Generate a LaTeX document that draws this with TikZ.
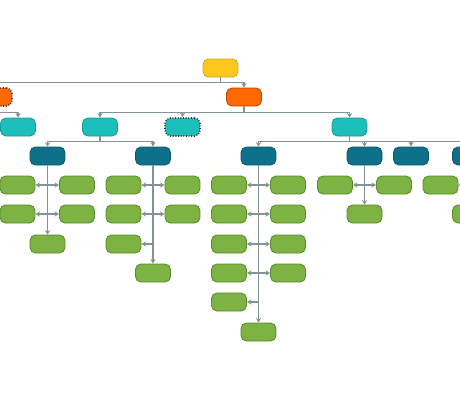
\documentclass[tikz,border=0pt]{standalone}
\usepackage{xcolor}
\usepackage{tikz}
\usetikzlibrary{arrows.meta,calc}

\definecolor{rootfill}{HTML}{FFC81E}
\definecolor{rootline}{HTML}{D9A520}
\definecolor{orfill}{HTML}{FF6A00}
\definecolor{orline}{HTML}{B24A05}
\definecolor{tlfill}{HTML}{1CBFB9}
\definecolor{tlline}{HTML}{169C97}
\definecolor{dkfill}{HTML}{0E7089}
\definecolor{dkline}{HTML}{0A5A6E}
\definecolor{grfill}{HTML}{7CB342}
\definecolor{grline}{HTML}{5C8A2E}
\definecolor{linkgray}{HTML}{85929A}

\tikzset{
  box/.style={rectangle,rounded corners=1.1mm,minimum width=0.7cm,minimum height=0.36cm,inner sep=0pt,line width=0.5pt},
  rootbox/.style={box,fill=rootfill,draw=rootline},
  orbox/.style={box,fill=orfill,draw=orline},
  tlbox/.style={box,fill=tlfill,draw=tlline},
  dkbox/.style={box,fill=dkfill,draw=dkline},
  grbox/.style={box,fill=grfill,draw=grline},
  ghost/.style={draw=black!80,densely dotted,line width=0.9pt},
  link/.style={draw=linkgray,line width=0.6pt,-{Stealth[length=2.6pt,width=3pt]}},
  dlink/.style={draw=linkgray,line width=0.6pt,{Stealth[length=2.6pt,width=3pt]}-{Stealth[length=2.6pt,width=3pt]}},
}

\begin{document}
\begin{tikzpicture}[x=0.02cm,y=-0.02cm]
  \useasboundingbox (0,0) rectangle (460,400);

  % top levels
  \node[rootbox] (yel) at (220.5,68) {};
  \node[orbox] (or2) at (244,97) {};
  \node[orbox,ghost] (or1) at (-5.5,97) {};
  \node[tlbox] (tl1) at (18,127) {};
  \node[tlbox] (tl2) at (100,127) {};
  \node[tlbox,ghost] (tl3) at (182.5,127) {};
  \node[tlbox] (tl4) at (349.5,127) {};

  \draw[link] (yel.south) -- ++(0,5) -| (or2.north);
  \draw[link] (yel.south) -- ++(0,5) -| (or1.north);
  \draw[link] (or1.south) -- ++(0,6) -| (tl1.north);
  \draw[link] (or2.south) -- ++(0,6) -| (tl2.north);
  \draw[link] (or2.south) -- ++(0,6) -| (tl3.north);
  \draw[link] (or2.south) -- ++(0,6) -| (tl4.north);

  % group heads
  \node[dkbox] (dk1) at (47.5,156) {};
  \node[dkbox] (dk2) at (153,156) {};
  \node[dkbox] (dk3) at (258.5,156) {};
  \node[dkbox] (dk4) at (364.5,156) {};
  \node[dkbox] (dk5) at (411,156) {};
  \node[dkbox] (dk6) at (470,156) {};

  \foreach \d in {dk1,dk2}
    \draw[link] (tl2.south) -- ++(0,5) -| (\d.north);
  \foreach \d in {dk3,dk4,dk5,dk6}
    \draw[link] (tl4.south) -- ++(0,5) -| (\d.north);

  % first group
  \node[grbox] (g1a) at (17.5,185) {};
  \node[grbox] (g1b) at (77,185) {};
  \node[grbox] (g1c) at (17.5,214) {};
  \node[grbox] (g1d) at (77,214) {};
  \node[grbox] (g1e) at (47.5,244) {};
  \draw[link] (dk1.south) -- (g1e.north);
  \draw[dlink] (g1a.east) -- (g1b.west);
  \draw[dlink] (g1c.east) -- (g1d.west);

  % second group
  \node[grbox] (g2a) at (123.5,185) {};
  \node[grbox] (g2b) at (182.5,185) {};
  \node[grbox] (g2c) at (123.5,214) {};
  \node[grbox] (g2d) at (182.5,214) {};
  \node[grbox] (g2e) at (123.5,244) {};
  \node[grbox] (g2f) at (153,273) {};
  \draw[link] (dk2.south) -- (g2f.north);
  \draw[dlink] (g2a.east) -- (g2b.west);
  \draw[dlink] (g2c.east) -- (g2d.west);
  \draw[link] (dk2 |- g2e) -- (g2e.east);

  % third group
  \foreach \r/\yy in {a/185,b/214,c/244,d/273} {
    \node[grbox] (g3\r l) at (229,\yy) {};
    \node[grbox] (g3\r r) at (288,\yy) {};
  }
  \node[grbox] (g3e) at (229,302) {};
  \node[grbox] (g3f) at (258.5,332) {};
  \draw[link] (dk3.south) -- (g3f.north);
  \foreach \r in {a,b,c,d}
    \draw[dlink] (g3\r l.east) -- (g3\r r.west);
  \draw[link] (dk3 |- g3e) -- (g3e.east);

  % fourth group
  \node[grbox] (g4a) at (335,185) {};
  \node[grbox] (g4b) at (394,185) {};
  \node[grbox] (g4c) at (364.5,214) {};
  \draw[link] (dk4.south) -- (g4c.north);
  \draw[dlink] (g4a.east) -- (g4b.west);

  % last group
  \node[grbox] (g6a) at (440.5,185) {};
  \node[grbox] (g6c) at (470,214) {};
  \draw[link] (dk6.south) -- (g6c.north);
  \draw[link] (dk6 |- g6a) -- (g6a.east);
\end{tikzpicture}
\end{document}
